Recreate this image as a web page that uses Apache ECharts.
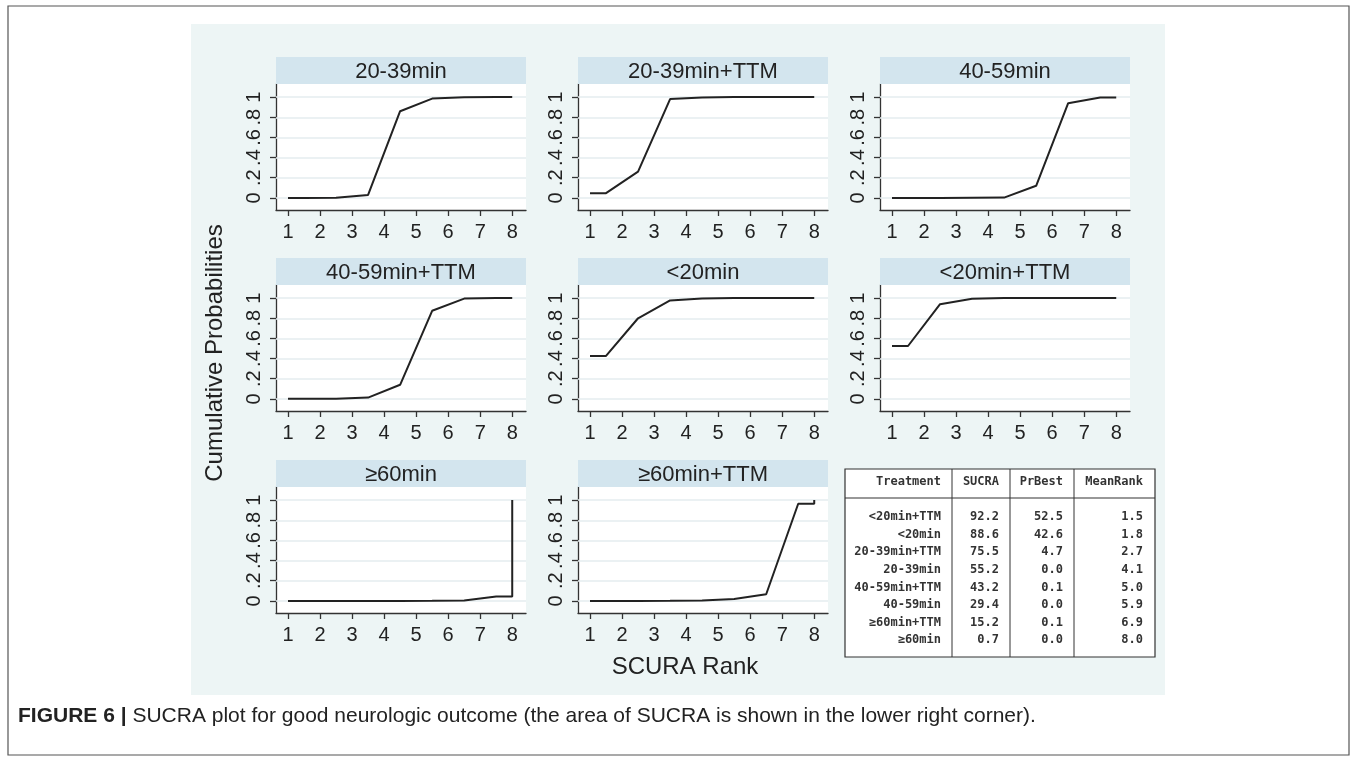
<!DOCTYPE html>
<html>
<head>
<meta charset="utf-8">
<script src="https://cdn.jsdelivr.net/npm/echarts@6/dist/echarts.min.js"></script>
<style>
html,body{margin:0;padding:0;background:#fff;}
#chart{width:1357px;height:761px;}
</style>
</head>
<body>
<div id="chart"></div>
<script>
// ---- data ----
const panelNames = ['20-39min', '20-39min+TTM', '40-59min', '40-59min+TTM', '<20min', '<20min+TTM', '≥60min', '≥60min+TTM'];
const rankX = [1, 1.5, 2.5, 3.5, 4.5, 5.5, 6.5, 7.5, 8, 8];
const cum_20_39 = [0, 0, 0.002, 0.03, 0.86, 0.985, 0.998, 1, 1, 1];
const cum_20_39_TTM = [0.047, 0.047, 0.26, 0.98, 0.997, 1, 1, 1, 1, 1];
const cum_40_59 = [0, 0, 0, 0.001, 0.003, 0.12, 0.94, 0.995, 0.995, 1];
const cum_40_59_TTM = [0.001, 0.001, 0.002, 0.013, 0.14, 0.874, 0.995, 1, 1, 1];
const cum_lt20 = [0.426, 0.426, 0.80, 0.977, 0.995, 1, 1, 1, 1, 1];
const cum_lt20_TTM = [0.525, 0.525, 0.94, 0.993, 1, 1, 1, 1, 1, 1];
const cum_ge60 = [0, 0, 0, 0, 0, 0.001, 0.003, 0.043, 0.043, 1];
const cum_ge60_TTM = [0, 0, 0, 0.002, 0.005, 0.02, 0.066, 0.964, 0.964, 1];
const panelValues = [cum_20_39, cum_20_39_TTM, cum_40_59, cum_40_59_TTM, cum_lt20, cum_lt20_TTM, cum_ge60, cum_ge60_TTM];
const xTicks = [1, 2, 3, 4, 5, 6, 7, 8];
const yTicks = [0, 0.2, 0.4, 0.6, 0.8, 1];

const tableHeader = ['Treatment', 'SUCRA', 'PrBest', 'MeanRank'];
const tableTreatment = ['<20min+TTM', '<20min', '20-39min+TTM', '20-39min', '40-59min+TTM', '40-59min', '≥60min+TTM', '≥60min'];
const tableSucra = [92.2, 88.6, 75.5, 55.2, 43.2, 29.4, 15.2, 0.7];
const tablePrBest = [52.5, 42.6, 4.7, 0.0, 0.1, 0.0, 0.1, 0.0];
const tableMeanRank = [1.5, 1.8, 2.7, 4.1, 5.0, 5.9, 6.9, 8.0];

// ---- layout ----
const colLeft = [276, 578, 880];
const rowTop = [84, 285, 487];
const plotW = 250, plotH = 126, stripH = 27;
const FONT = "'Liberation Sans', Arial, sans-serif";
const MONO = "'DejaVu Sans Mono', monospace";

const grids = [], xAxes = [], yAxes = [], series = [], graphics = [];

graphics.push({type: 'rect', z: -10, shape: {x: 8, y: 6, width: 1341, height: 749}, style: {fill: '#fff', stroke: '#555', lineWidth: 1.2}});
graphics.push({type: 'rect', z: -9, shape: {x: 191, y: 24, width: 974, height: 671}, style: {fill: '#EDF5F5'}});

panelNames.forEach((name, i) => {
  const c = i % 3, r = Math.floor(i / 3);
  const left = colLeft[c], top = rowTop[r];
  grids.push({left: left, top: top, width: plotW, height: plotH, show: true, backgroundColor: '#fff', borderWidth: 0, containLabel: false});
  xAxes.push({
    type: 'value', gridIndex: i, min: 0.625, max: 8.43,
    axisLine: {show: true, onZero: false, lineStyle: {color: '#333', width: 1.3}},
    axisTick: {show: true, customValues: xTicks, length: 6, lineStyle: {color: '#333', width: 1.3}},
    axisLabel: {show: true, customValues: xTicks, margin: 12, fontSize: 20, color: '#222', fontFamily: FONT},
    splitLine: {show: false}
  });
  yAxes.push({
    type: 'value', gridIndex: i, min: -0.12, max: 1.13,
    axisLine: {show: true, onZero: false, lineStyle: {color: '#333', width: 1.3}},
    axisTick: {show: true, customValues: yTicks, length: 6, lineStyle: {color: '#333', width: 1.3}},
    axisLabel: {show: true, customValues: yTicks, rotate: 90, margin: 12, fontSize: 20, color: '#222', fontFamily: FONT,
      formatter: v => (v === 0 ? '0' : (v === 1 ? '1' : String(Math.round(v * 10) / 10).replace(/^0/, '')))},
    splitLine: {show: false}
  });
  series.push({
    type: 'line', xAxisIndex: i, yAxisIndex: i,
    data: rankX.map((x, k) => [x, panelValues[i][k]]),
    symbol: 'none', lineStyle: {color: '#222', width: 2}, z: 5,
    markLine: {silent: true, symbol: 'none', label: {show: false},
      lineStyle: {color: '#E4ECEF', width: 1.6, type: 'solid'},
      data: yTicks.map(v => ({yAxis: v})), z: 1}
  });
  graphics.push({type: 'rect', z: 10, shape: {x: left, y: top - stripH, width: plotW, height: stripH}, style: {fill: '#D3E5EE'}});
  graphics.push({type: 'text', z: 11, x: left + plotW / 2, y: top - stripH / 2 + 1,
    style: {text: name, fontSize: 22, fontFamily: FONT, fill: '#222', align: 'center', verticalAlign: 'middle'}});
});

// axis titles
graphics.push({type: 'text', z: 11, x: 215, y: 353, rotation: Math.PI / 2,
  style: {text: 'Cumulative Probabilities', fontSize: 24, fontFamily: FONT, fill: '#222', align: 'center', verticalAlign: 'middle'}});
graphics.push({type: 'text', z: 11, x: 685, y: 667,
  style: {text: 'SCURA Rank', fontSize: 24, fontFamily: FONT, fill: '#222', align: 'center', verticalAlign: 'middle'}});

// table
const tL = 845, tT = 469, tR = 1155, tB = 657, headY = 482, lineY = 498;
const colSep = [952, 1010, 1074];
const colRight = [941, 999, 1063, 1143];
graphics.push({type: 'rect', z: 10, shape: {x: tL, y: tT, width: tR - tL, height: tB - tT}, style: {fill: '#fff', stroke: '#333', lineWidth: 1.2}});
graphics.push({type: 'line', z: 11, shape: {x1: tL, y1: lineY, x2: tR, y2: lineY}, style: {stroke: '#333', lineWidth: 1.2}});
colSep.forEach(x => graphics.push({type: 'line', z: 11, shape: {x1: x, y1: tT, x2: x, y2: tB}, style: {stroke: '#333', lineWidth: 1}}));
tableHeader.forEach((h, j) => graphics.push({type: 'text', z: 12, x: colRight[j], y: headY,
  style: {text: h, fontSize: 12, fontWeight: 'bold', fontFamily: MONO, fill: '#333', align: 'right', verticalAlign: 'middle'}}));
tableTreatment.forEach((t, k) => {
  const y = 517 + k * 17.6;
  const cells = [t, tableSucra[k].toFixed(1), tablePrBest[k].toFixed(1), tableMeanRank[k].toFixed(1)];
  cells.forEach((s, j) => graphics.push({type: 'text', z: 12, x: colRight[j], y: y,
    style: {text: s, fontSize: 12, fontWeight: 'bold', fontFamily: MONO, fill: '#333', align: 'right', verticalAlign: 'middle'}}));
});

// caption
graphics.push({type: 'text', z: 12, x: 18, y: 716,
  style: {text: '{b|FIGURE 6 |} SUCRA plot for good neurologic outcome (the area of SUCRA is shown in the lower right corner).',
    fontSize: 21, fontFamily: FONT, fill: '#222', verticalAlign: 'middle',
    rich: {b: {fontWeight: 'bold', fontSize: 21, fontFamily: FONT, fill: '#222'}}}});

const chart = echarts.init(document.getElementById('chart'), null, {renderer: 'canvas'});
chart.setOption({
  animation: false,
  backgroundColor: '#fff',
  grid: grids, xAxis: xAxes, yAxis: yAxes, series: series,
  graphic: {elements: graphics}
});
</script>
</body>
</html>
